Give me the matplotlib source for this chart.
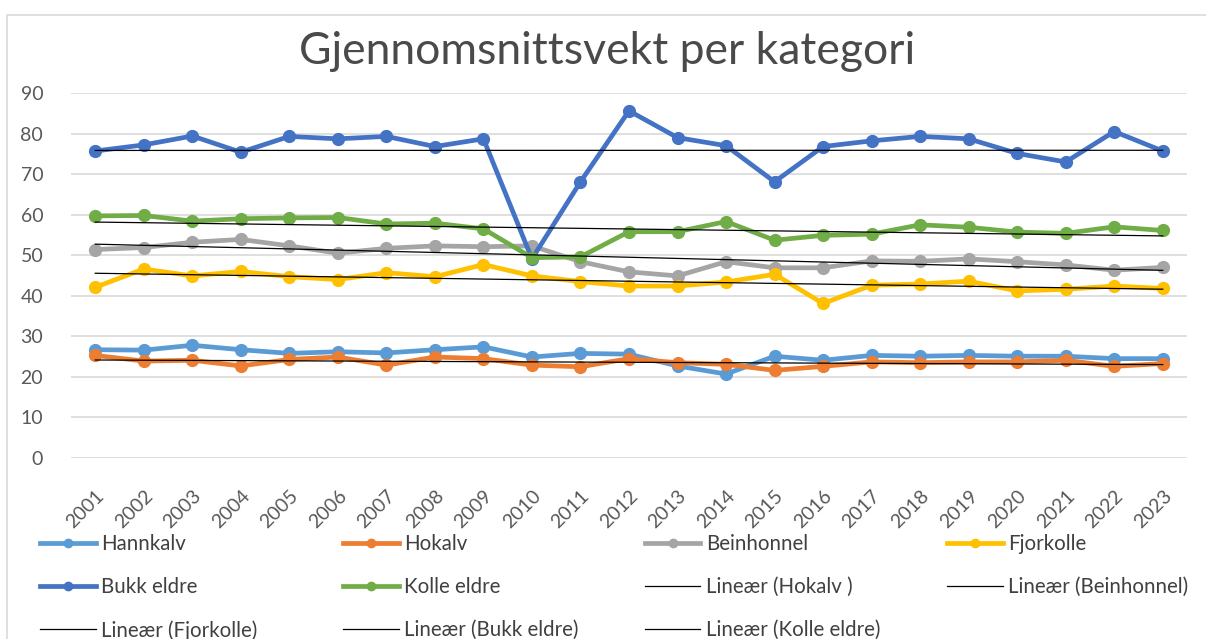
import numpy as np
import matplotlib
matplotlib.use("Agg")
import matplotlib.pyplot as plt
from matplotlib.lines import Line2D
from matplotlib.patches import Rectangle

plt.rcParams['font.family'] = ['Lato', 'DejaVu Sans']

# Data

years = [str(y) for y in range(2001, 2024)]

hannkalv = [26.7, 26.6, 27.8, 26.7, 25.8, 26.2, 25.9, 26.7, 27.4, 24.9, 25.8, 25.6,
            22.7, 20.7, 25.1, 24.1, 25.3, 25.1, 25.3, 25.1, 25.1, 24.5, 24.5]
hokalv = [25.3, 23.9, 24.1, 22.7, 24.3, 24.9, 22.9, 24.9, 24.5, 22.9, 22.5, 24.5,
          23.5, 23.1, 21.6, 22.6, 23.7, 23.5, 23.7, 23.7, 24.1, 22.6, 23.3]
beinhonnel = [51.4, 51.9, 53.2, 53.9, 52.3, 50.5, 51.7, 52.3, 52.1, 52.3, 48.4, 45.9,
              44.9, 48.4, 46.9, 46.9, 48.6, 48.5, 49.1, 48.4, 47.6, 46.3, 47.0]
fjorkolle = [42.1, 46.6, 44.9, 46.0, 44.7, 44.0, 45.7, 44.7, 47.7, 44.9, 43.5, 42.4,
             42.4, 43.4, 45.3, 38.1, 42.6, 42.9, 43.6, 41.2, 41.6, 42.4, 41.8]
bukk_eldre = [75.7, 77.2, 79.4, 75.4, 79.3, 78.7, 79.3, 76.8, 78.7, 49.1, 68.1, 85.6,
              79.0, 77.0, 68.1, 76.8, 78.2, 79.3, 78.7, 75.1, 73.0, 80.5, 75.7]
kolle_eldre = [59.7, 59.8, 58.4, 59.0, 59.2, 59.3, 57.7, 57.9, 56.5, 49.4, 49.6, 55.8,
               55.8, 58.3, 53.7, 54.9, 55.2, 57.5, 56.9, 55.7, 55.4, 57.0, 56.1]

series_names = ["Hannkalv", "Hokalv", "Beinhonnel", "Fjorkolle", "Bukk eldre", "Kolle eldre"]
series_data = [hannkalv, hokalv, beinhonnel, fjorkolle, bukk_eldre, kolle_eldre]
colors = ["#5B9BD5", "#ED7D31", "#A5A5A5", "#FFC000", "#4472C4", "#70AD47"]

# series that have a linear trend line in Excel
trend_names = ["Hokalv", "Beinhonnel", "Fjorkolle", "Bukk eldre", "Kolle eldre"]
trend_labels = ["Lineær (Hokalv )", "Lineær (Beinhonnel)", "Lineær (Fjorkolle)",
                "Lineær (Bukk eldre)", "Lineær (Kolle eldre)"]

W, H = 1206, 639
fig = plt.figure(figsize=(W / 100, H / 100), dpi=100)

# chart border
fig.patches.append(Rectangle((7 / W, -0.1), 1.2, 1 - 15 / H + 0.1,
                             transform=fig.transFigure, fill=False,
                             edgecolor="#D9D9D9", linewidth=1.2))

ax = fig.add_axes([71 / W, 1 - 458 / H, (1187 - 71) / W, (458 - 93) / H])

x = np.arange(len(years))
for name, vals, c in zip(series_names, series_data, colors):
    ax.plot(x, vals, color=c, linewidth=3.4, marker="o", markersize=8.5,
            solid_joinstyle="round", zorder=3)

for name in trend_names:
    vals = series_data[series_names.index(name)]
    k, m = np.polyfit(x, vals, 1)
    ax.plot(x, k * x + m, color="black", linewidth=0.9, zorder=4)

ax.set_xlim(-0.5, len(years) - 0.5)
ax.set_ylim(0, 90)
ax.set_yticks(range(0, 91, 10))
ax.set_xticks(x)
ax.set_xticklabels(years, rotation=45, ha="right", rotation_mode="anchor")
ax.tick_params(axis="both", length=0, labelsize=14, labelcolor="#595959")
ax.tick_params(axis="y", pad=20)
ax.tick_params(axis="x", pad=21)
ax.grid(axis="y", color="#D9D9D9", linewidth=1.2)
ax.set_axisbelow(True)
for s in ax.spines.values():
    s.set_visible(False)

fig.text(0.5 + 4 / W, 1 - 52 / H, "Gjennomsnittsvekt per kategori", ha="center", va="center",
         fontsize=32, color="#4a4a4a")

# legend, laid out row-wise in four columns
handles = []
for name, c in zip(series_names, colors):
    handles.append((Line2D([], [], color=c, linewidth=3.4, marker="o", markersize=6), name))
for lab in trend_labels:
    handles.append((Line2D([], [], color="black", linewidth=0.9), lab))

col_x = [40, 343, 645, 947]
for ci in range(4):
    items = handles[ci::4]
    fig.legend([h for h, _ in items], [l for _, l in items],
               loc="upper left", bbox_to_anchor=(col_x[ci] / W, 1 - 534 / H),
               frameon=False, fontsize=14.8, labelcolor="#404040",
               handlelength=2.7, handletextpad=0.25, labelspacing=1.12,
               borderaxespad=0, borderpad=0)

fig.savefig("out.png", dpi=100)
